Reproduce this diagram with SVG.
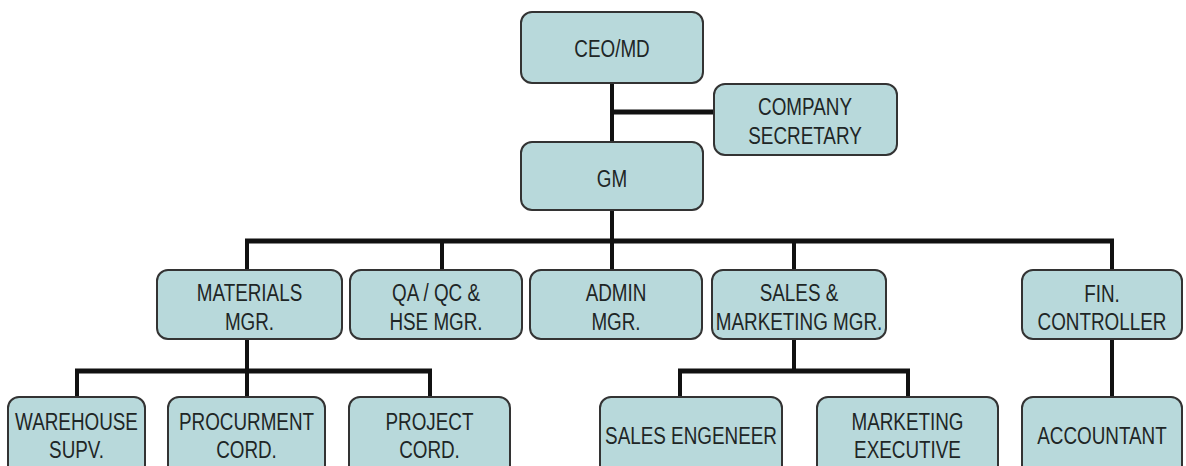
<svg xmlns="http://www.w3.org/2000/svg" width="1186" height="466" viewBox="0 0 1186 466">
<style>
.box{fill:#b8d9db;stroke:#333;stroke-width:2}
.t{font-family:"Liberation Sans",Arial,sans-serif;font-size:23px;fill:#1e2626;text-anchor:middle}
.v{stroke:#111;stroke-width:4;fill:none}
.h{stroke:#111;stroke-width:5;fill:none}
</style>
<rect width="1186" height="466" fill="#fff"/>
<g id="connectors">
<line class="v" x1="612" y1="83" x2="612" y2="142"/>
<line class="h" x1="612" y1="112" x2="714" y2="112"/>
<line class="v" x1="612" y1="210" x2="612" y2="270"/>
<line class="h" x1="245" y1="241" x2="1114" y2="241"/>
<line class="v" x1="247" y1="241" x2="247" y2="270"/>
<line class="v" x1="442" y1="241" x2="442" y2="270"/>
<line class="v" x1="794" y1="241" x2="794" y2="270"/>
<line class="v" x1="1112" y1="241" x2="1112" y2="270"/>
<line class="v" x1="247" y1="339" x2="247" y2="397"/>
<line class="h" x1="75" y1="371" x2="432" y2="371"/>
<line class="v" x1="77" y1="371" x2="77" y2="397"/>
<line class="v" x1="430" y1="371" x2="430" y2="397"/>
<line class="v" x1="794" y1="339" x2="794" y2="371"/>
<line class="h" x1="678" y1="371" x2="910" y2="371"/>
<line class="v" x1="680" y1="371" x2="680" y2="397"/>
<line class="v" x1="908" y1="371" x2="908" y2="397"/>
<line class="v" x1="1112" y1="339" x2="1112" y2="397"/>
</g>
<g id="ceo">
<rect class="box" x="521" y="12" width="182" height="71" rx="11"/>
<text class="t" transform="translate(612 0) scale(0.82 1)" x="0" y="57">CEO/MD</text>
</g>
<g id="company-secretary">
<rect class="box" x="714" y="84" width="183" height="71" rx="11"/>
<text class="t" transform="translate(805 0) scale(0.82 1)" x="0" y="115">COMPANY</text>
<text class="t" transform="translate(805 0) scale(0.82 1)" x="0" y="144">SECRETARY</text>
</g>
<g id="gm">
<rect class="box" x="521" y="142" width="182" height="68" rx="11"/>
<text class="t" transform="translate(612 0) scale(0.82 1)" x="0" y="187">GM</text>
</g>
<g id="materials-mgr">
<rect class="box" x="157" y="270" width="185" height="69" rx="11"/>
<text class="t" transform="translate(249.5 0) scale(0.82 1)" x="0" y="301">MATERIALS</text>
<text class="t" transform="translate(249.5 0) scale(0.82 1)" x="0" y="330">MGR.</text>
</g>
<g id="qa-qc-hse-mgr">
<rect class="box" x="350" y="270" width="172" height="69" rx="11"/>
<text class="t" transform="translate(436 0) scale(0.82 1)" x="0" y="301">QA / QC &amp;</text>
<text class="t" transform="translate(436 0) scale(0.82 1)" x="0" y="330">HSE MGR.</text>
</g>
<g id="admin-mgr">
<rect class="box" x="530" y="270" width="172" height="69" rx="11"/>
<text class="t" transform="translate(616 0) scale(0.82 1)" x="0" y="301">ADMIN</text>
<text class="t" transform="translate(616 0) scale(0.82 1)" x="0" y="330">MGR.</text>
</g>
<g id="sales-marketing-mgr">
<rect class="box" x="712" y="270" width="174" height="69" rx="11"/>
<text class="t" transform="translate(799 0) scale(0.82 1)" x="0" y="301">SALES &amp;</text>
<text class="t" transform="translate(799 0) scale(0.82 1)" x="0" y="330">MARKETING MGR.</text>
</g>
<g id="fin-controller">
<rect class="box" x="1022" y="270" width="160" height="69" rx="11"/>
<text class="t" transform="translate(1102 0) scale(0.82 1)" x="0" y="302">FIN.</text>
<text class="t" transform="translate(1102 0) scale(0.82 1)" x="0" y="330">CONTROLLER</text>
</g>
<g id="warehouse-supv">
<rect class="box" x="8" y="397" width="137" height="80" rx="11"/>
<text class="t" transform="translate(76.5 0) scale(0.82 1)" x="0" y="430">WAREHOUSE</text>
<text class="t" transform="translate(76.5 0) scale(0.82 1)" x="0" y="458">SUPV.</text>
</g>
<g id="procurment-cord">
<rect class="box" x="168" y="397" width="157" height="80" rx="11"/>
<text class="t" transform="translate(246.5 0) scale(0.82 1)" x="0" y="430">PROCURMENT</text>
<text class="t" transform="translate(246.5 0) scale(0.82 1)" x="0" y="458">CORD.</text>
</g>
<g id="project-cord">
<rect class="box" x="349" y="397" width="161" height="80" rx="11"/>
<text class="t" transform="translate(429.5 0) scale(0.82 1)" x="0" y="430">PROJECT</text>
<text class="t" transform="translate(429.5 0) scale(0.82 1)" x="0" y="458">CORD.</text>
</g>
<g id="sales-engeneer">
<rect class="box" x="600" y="397" width="182" height="80" rx="11"/>
<text class="t" transform="translate(691 0) scale(0.82 1)" x="0" y="444">SALES ENGENEER</text>
</g>
<g id="marketing-executive">
<rect class="box" x="817" y="397" width="181" height="80" rx="11"/>
<text class="t" transform="translate(907.5 0) scale(0.82 1)" x="0" y="430">MARKETING</text>
<text class="t" transform="translate(907.5 0) scale(0.82 1)" x="0" y="458">EXECUTIVE</text>
</g>
<g id="accountant">
<rect class="box" x="1022" y="397" width="160" height="80" rx="11"/>
<text class="t" transform="translate(1102 0) scale(0.82 1)" x="0" y="444">ACCOUNTANT</text>
</g>
</svg>
